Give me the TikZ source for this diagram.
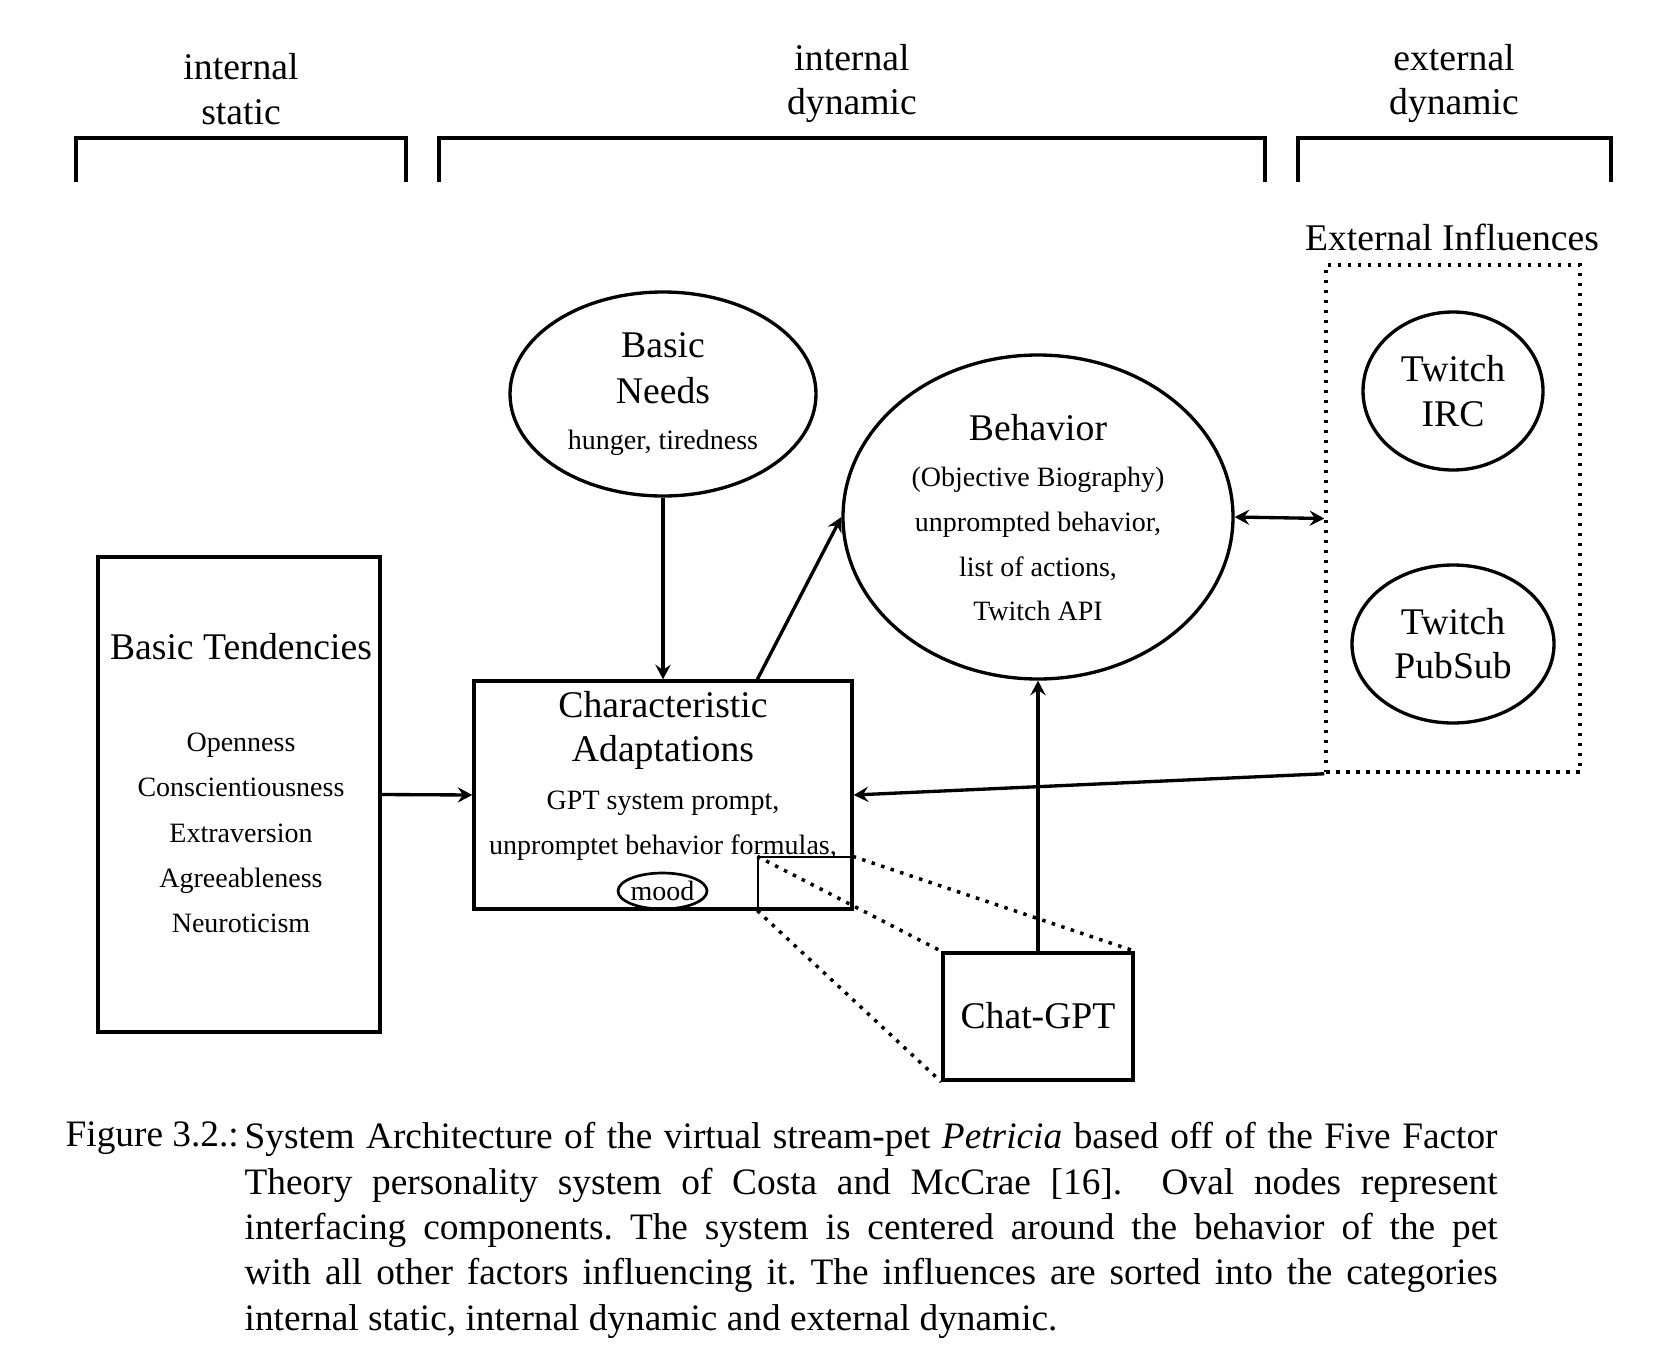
\documentclass[tikz,border=0pt]{standalone}
\usepackage{fontspec}
\setmainfont{Liberation Serif}
\usetikzlibrary{arrows.meta,shapes.geometric}
\tikzset{
  shp/.style={draw, line width=1pt, inner sep=0pt},
  boxn/.style={shp, rectangle},
  ovaln/.style={shp, ellipse},
  mainf/.style={font=\fontsize{11.3}{13.5}\selectfont},
  smallf/.style={font=\fontsize{8.4}{10}\selectfont},
  txt/.style={inner sep=0pt, text height=0.7em, text depth=0pt, anchor=center},
  tip/.style={},
  arr/.style={line width=1pt, -{Stealth[length=4.4pt,width=4.6pt,inset=1.6pt]}},
  arrboth/.style={line width=1pt, {Stealth[length=4.4pt,width=4.6pt,inset=1.6pt]}-{Stealth[length=4.4pt,width=4.6pt,inset=1.6pt]}},
  dotline/.style={line width=1.05pt, dash pattern=on 1.05pt off 1.95pt},
  bracket/.style={line width=1.1pt},
  thinrect/.style={draw, line width=0.4pt, inner sep=0pt, rectangle}
}
\begin{document}
\begin{tikzpicture}[x=0.3pt, y=-0.3pt]
\fill[white] (0,0) rectangle (1655,1360);
\useasboundingbox (0,0) rectangle (1655,1360);

% category brackets
\draw[bracket] (76,182) |- (406,138) -- (406,182);
\draw[bracket] (439,182) |- (1265,138) -- (1265,182);
\draw[bracket] (1298,182) |- (1611,138) -- (1611,182);
\node[txt, mainf] (l1a) at (241,68) {internal};
\node[txt, mainf] (l1b) at (241,113) {static};
\node[txt, mainf] (l2a) at (852,59) {internal};
\node[txt, mainf] (l2b) at (852,103) {dynamic};
\node[txt, mainf] (l3a) at (1454,59) {external};
\node[txt, mainf] (l3b) at (1454,103) {dynamic};

% Basic Tendencies
\node[boxn, minimum width=84.6pt, minimum height=142.5pt] (bt) at (239,794.5) {};
\node[txt, mainf] (btt) at (241,648) {Basic Tendencies};
\node[txt, smallf] (bt1) at (241,740) {Openness};
\node[txt, smallf] (bt2) at (241,785) {Conscientiousness};
\node[txt, smallf] (bt3) at (241,831) {Extraversion};
\node[txt, smallf] (bt4) at (241,876) {Agreeableness};
\node[txt, smallf] (bt5) at (241,921) {Neuroticism};

% Characteristic Adaptations
\node[boxn, minimum width=113.4pt, minimum height=68.4pt] (ca) at (663,795) {};
\node[txt, mainf] (cat1) at (663,706) {Characteristic};
\node[txt, mainf] (cat2) at (663,750) {Adaptations};
\node[txt, smallf] (cat3) at (663,798) {GPT system prompt,};
\node[txt, smallf] (cat4) at (663,843) {unpromptet behavior formulas,};
\node[ovaln, line width=0.8pt, minimum width=26.7pt, minimum height=10.8pt] (mood) at (662.5,891) {};
\node[txt, smallf] (moodt) at (662.5,889) {mood};

% zoom rectangle
\node[thinrect, minimum width=28.2pt, minimum height=15.9pt] (zr) at (805,883.5) {};

% Basic Needs
\node[ovaln, minimum width=91.8pt, minimum height=61.2pt] (bn) at (663,394) {};
\node[txt, mainf] (bn1) at (663,346) {Basic};
\node[txt, mainf] (bn2) at (663,392) {Needs};
\node[txt, smallf] (bn3) at (663,438) {hunger, tiredness};

% Behavior
\node[ovaln, minimum width=117pt, minimum height=97.2pt] (beh) at (1038,517) {};
\node[txt, mainf] (beh1) at (1038,429) {Behavior};
\node[txt, smallf] (beh2) at (1038,475) {(Objective Biography)};
\node[txt, smallf] (beh3) at (1038,520) {unprompted behavior,};
\node[txt, smallf] (beh4) at (1038,565) {list of actions,};
\node[txt, smallf] (beh5) at (1038,609) {Twitch API};

% External influences
\node[draw, dotline, inner sep=0pt, minimum width=76.2pt, minimum height=152.1pt] (ext) at (1453,518.5) {};
\node[txt, mainf] (extl) at (1452,239) {External Influences};
\node[ovaln, minimum width=54pt, minimum height=47.4pt] (irc) at (1453,391) {};
\node[txt, mainf] (irc1) at (1453,370) {Twitch};
\node[txt, mainf] (irc2) at (1453,415) {IRC};
\node[ovaln, minimum width=60.6pt, minimum height=47.4pt] (ps) at (1453,644) {};
\node[txt, mainf] (ps1) at (1453,623) {Twitch};
\node[txt, mainf] (ps2) at (1453,667) {PubSub};

% Chat-GPT
\node[boxn, line width=1.1pt, minimum width=57pt, minimum height=38.1pt] (gpt) at (1038,1016.5) {};
\node[txt, mainf] (gptt) at (1038,1017) {Chat-GPT};

% zoom lines
\draw[dotline] (zr.north west) -- (gpt.north west);
\draw[dotline] (zr.north east) -- (gpt.north east);
\draw[dotline] (zr.south west) -- (gpt.south west);

% connectors
\draw[arr] (bt.east) -- (ca.west);
\draw[arr] (bn.south) -- (ca.north);
\draw[arr] (ca.north -| zr.west) -- (beh.west);
\draw[arrboth] (beh.east) -- (ext.west);
\draw[arr] (ext.south west) -- (ca.east);
\draw[arr] (gpt.north) -- (beh.south);

% caption
\node[anchor=base west, inner sep=0pt, font=\fontsize{11.2}{13.6}\selectfont] (figl) at (65,1146) {Figure 3.2.:};
\node[anchor=north west, inner sep=0pt, text width=375.9pt, align=justify, font=\fontsize{11.2}{13.6}\selectfont\frenchspacing] (cap) at (244,1122)
{System Architecture of the virtual stream-pet \textit{Petricia} based off of the Five Factor\linebreak
Theory personality system of Costa and McCrae [16].\ \ Oval nodes represent\linebreak
interfacing components. The system is centered around the behavior of the pet\linebreak
with all other factors influencing it. The influences are sorted into the categories\linebreak
internal static, internal dynamic and external dynamic.};
\end{tikzpicture}
\end{document}
